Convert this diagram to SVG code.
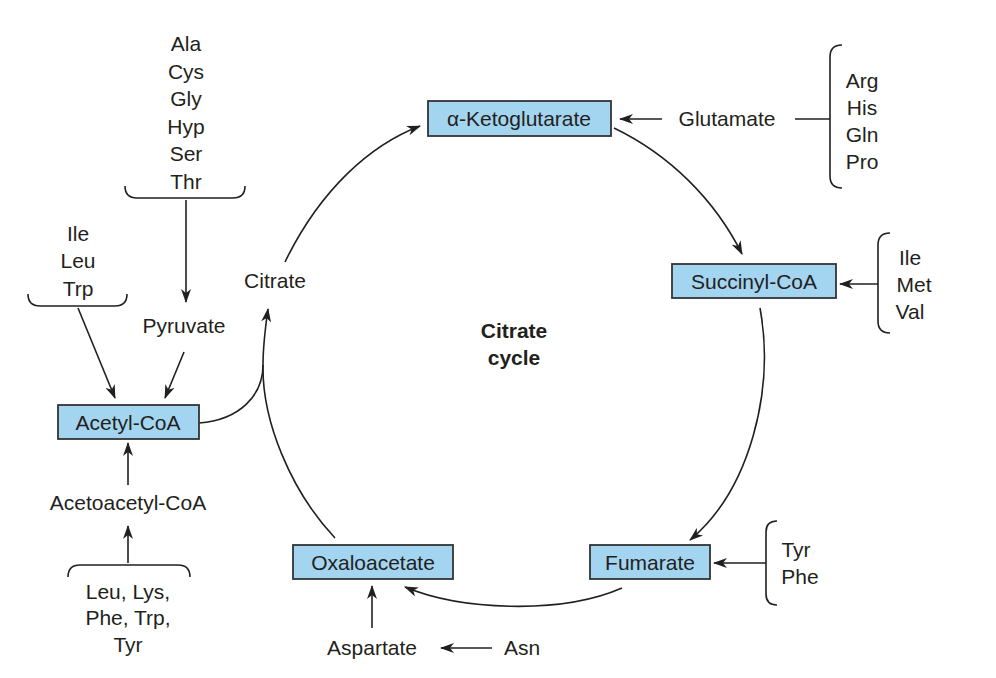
<svg xmlns="http://www.w3.org/2000/svg" width="996" height="678" viewBox="0 0 996 678">
<style>
text{font-family:"Liberation Sans",Arial,sans-serif;font-size:21px;fill:#231f20;text-anchor:middle}
.b{font-weight:bold}
.box{fill:#a3d4f0;stroke:#333;stroke-width:1.8}
.ln{fill:none;stroke:#231f20;stroke-width:1.6}
</style>
<defs>
<marker id="a" viewBox="0 0 14 10" refX="13" refY="5" markerWidth="14" markerHeight="10" markerUnits="userSpaceOnUse" orient="auto">
<path d="M0,0 L14,5 L0,10 L4,5 Z" fill="#231f20"/>
</marker>
</defs>
<rect width="996" height="678" fill="#fff"/>
<g id="connectors" class="ln">
<path d="M285,262 C320,190 370,145 420,126" marker-end="url(#a)"/>
<path d="M614,128 C670,155 715,200 742,254" marker-end="url(#a)"/>
<path d="M760,308 C775,390 750,490 690,540" marker-end="url(#a)"/>
<path d="M622,588 C560,615 460,610 405,587" marker-end="url(#a)"/>
<path d="M335,538 C290,490 262,420 263,365 C263,345 265,330 268,309" marker-end="url(#a)"/>
<path d="M199,423 C240,420 263,395 263,365"/>
<path d="M662,119 H620" marker-end="url(#a)"/>
<path d="M795,119 H830"/>
<path d="M878,284 H840" marker-end="url(#a)"/>
<path d="M766,563 H714" marker-end="url(#a)"/>
<path d="M492,648 H441" marker-end="url(#a)"/>
<path d="M372,628 V586" marker-end="url(#a)"/>
<path d="M128,485 V443" marker-end="url(#a)"/>
<path d="M128,563 V526" marker-end="url(#a)"/>
<path d="M186,200 V302" marker-end="url(#a)"/>
<path d="M78,308 L115,398" marker-end="url(#a)"/>
<path d="M184,352 L165,398" marker-end="url(#a)"/>
<path d="M842,45 C834,45 830,49 830,57 V176 C830,184 834,188 842,188"/>
<path d="M890,233 C882,233 878,237 878,245 V321 C878,329 882,333 890,333"/>
<path d="M777,521 C769,521 766,525 766,532 V594 C766,601 769,605 777,605"/>
<path d="M125,186 C125,194 129,198 137,198 H233 C241,198 245,194 245,186"/>
<path d="M28,294 C28,302 32,306 40,306 H115 C123,306 127,302 127,294"/>
<path d="M68,577 C68,569 72,565 80,565 H178 C186,565 190,569 190,577"/>
</g>
<g id="akg"><rect class="box" x="428" y="101" width="183" height="35"/><text x="519" y="126">α-Ketoglutarate</text></g>
<g id="succ"><rect class="box" x="672" y="264" width="164" height="34"/><text x="754" y="289">Succinyl-CoA</text></g>
<g id="fum"><rect class="box" x="590" y="545" width="120" height="34"/><text x="650" y="570">Fumarate</text></g>
<g id="oaa"><rect class="box" x="293" y="545" width="160" height="34"/><text x="373" y="570">Oxaloacetate</text></g>
<g id="acoa"><rect class="box" x="58" y="405" width="141" height="34"/><text x="128" y="430">Acetyl-CoA</text></g>
<g id="labels">
<text x="727" y="126">Glutamate</text>
<text x="862" y="88">Arg</text><text x="862" y="115">His</text><text x="862" y="142">Gln</text><text x="862" y="169">Pro</text>
<text x="910" y="265">Ile</text><text x="914" y="292">Met</text><text x="910" y="319">Val</text>
<text x="796" y="557">Tyr</text><text x="800" y="584">Phe</text>
<text x="522" y="655">Asn</text>
<text x="372" y="655">Aspartate</text>
<text x="128" y="510">Acetoacetyl-CoA</text>
<text x="128" y="599">Leu, Lys,</text><text x="128" y="625">Phe, Trp,</text><text x="128" y="652">Tyr</text>
<text x="186" y="51">Ala</text><text x="186" y="79">Cys</text><text x="186" y="106">Gly</text><text x="186" y="134">Hyp</text><text x="186" y="161">Ser</text><text x="186" y="189">Thr</text>
<text x="78" y="241">Ile</text><text x="78" y="268">Leu</text><text x="78" y="296">Trp</text>
<text x="184" y="333">Pyruvate</text>
<text x="275" y="288">Citrate</text>
<text class="b" x="514" y="338">Citrate</text><text class="b" x="514" y="365">cycle</text>
</g>
</svg>
